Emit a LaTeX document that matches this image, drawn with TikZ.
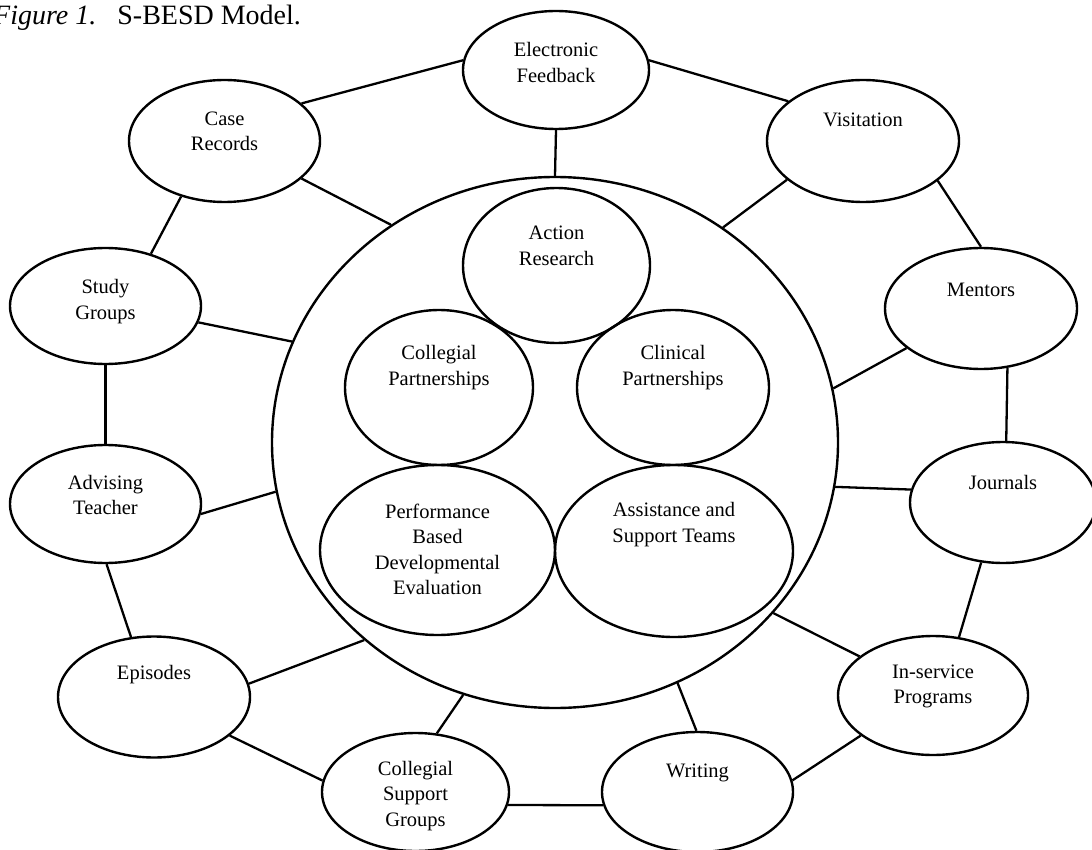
\documentclass[tikz,border=0pt]{standalone}
\usepackage{fontspec}
\setmainfont{Liberation Serif}
\usetikzlibrary{shapes.geometric}
\tikzset{
  oval/.style={draw, ellipse, line width=2.4pt, inner sep=0pt},
  lbl/.style={align=center, inner sep=0pt, font=\fontsize{20.5}{25.5}\selectfont},
  link/.style={line width=2.3pt},
}
\begin{document}
\begin{tikzpicture}[x=1pt,y=-1pt]
\fill[white] (0,0) rectangle (1092,850);
\useasboundingbox (0,0) rectangle (1092,850);

% title
\node[anchor=base west, inner sep=0pt, font=\fontsize{28}{34}\selectfont] (title) at (-7,25)
  {\textit{Figure 1.}\hspace{21pt}S-BESD Model.};

% big circle
\node[oval, minimum width=566pt, minimum height=531pt] (big) at (555,442.5) {};

% inner ellipses
\node[oval, minimum width=187pt, minimum height=155pt] (ar) at (556.5,265.5) {};
\node[oval, minimum width=188pt, minimum height=155pt] (cp) at (439,387.5) {};
\node[oval, minimum width=192pt, minimum height=155pt] (clp) at (673,387.5) {};
\node[oval, minimum width=235pt, minimum height=170pt] (pb) at (437.5,550) {};
\node[oval, minimum width=238pt, minimum height=172pt] (as) at (674,551) {};

% outer ellipses
\node[oval, minimum width=186pt, minimum height=118pt] (ef) at (556,70) {};
\node[oval, minimum width=191pt, minimum height=122pt] (cr) at (224.5,141) {};
\node[oval, minimum width=192pt, minimum height=122pt] (vi) at (863,141) {};
\node[oval, minimum width=191pt, minimum height=116pt] (sg) at (105.5,306) {};
\node[oval, minimum width=192pt, minimum height=121pt] (me) at (981,308.5) {};
\node[oval, minimum width=191pt, minimum height=118pt] (at) at (105.5,504) {};
\node[oval, minimum width=186pt, minimum height=121pt] (jo) at (1003,502.5) {};
\node[oval, minimum width=192pt, minimum height=121pt] (ep) at (154,697) {};
\node[oval, minimum width=190pt, minimum height=119pt] (is) at (933,695.5) {};
\node[oval, minimum width=187pt, minimum height=118pt] (csg) at (415.5,792) {};
\node[oval, minimum width=191pt, minimum height=120pt] (wr) at (697.5,792) {};

% texts
\node[lbl] (ar-t) at ([yshift=19.5pt]ar.center) {Action\\Research};
\node[lbl] (cp-t) at ([yshift=20pt]cp.center) {Collegial\\Partnerships};
\node[lbl] (clp-t) at ([yshift=20pt]clp.center) {Clinical\\Partnerships};
\node[lbl] (pb-t) at ([yshift=0.5pt]pb.center) {Performance\\Based\\Developmental\\Evaluation};
\node[lbl] (as-t) at ([yshift=26.5pt]as.center) {Assistance and\\Support Teams};
\node[lbl] (ef-t) at ([yshift=7.5pt]ef.center) {Electronic\\Feedback};
\node[lbl] (cr-t) at ([yshift=9.5pt]cr.center) {Case\\Records};
\node[lbl] (vi-t) at ([yshift=21pt]vi.center) {Visitation};
\node[lbl] (sg-t) at ([yshift=4.5pt]sg.center) {Study\\Groups};
\node[lbl] (me-t) at ([yshift=18.5pt]me.center) {Mentors};
\node[lbl] (at-t) at ([yshift=9pt]at.center) {Advising\\Teacher};
\node[lbl] (jo-t) at ([yshift=20.5pt]jo.center) {Journals};
\node[lbl] (ep-t) at ([yshift=22pt]ep.center) {Episodes};
\node[lbl] (is-t) at ([yshift=9pt]is.center) {In-service\\Programs};
\node[lbl] (csg-t) at ([yshift=-4pt]csg.center) {Collegial\\Support\\Groups};
\node[lbl] (wr-t) at ([yshift=19pt]wr.center) {Writing};

% connectors
\draw[link] (cr.26.7) -- (ef.174);
\draw[link] (cr.-26.3) -- (big.127.2);
\draw[link] (cr.-128.5) -- (sg.49.7);
\draw[link] (sg.-10.1) -- (big.159.5);
\draw[link] (sg.south) -- (at.north);
\draw[link] (at.-6) -- (big.-170.4);
\draw[link] (at.-89.5) -- (ep.111.4);
\draw[link] (ep.8.3) -- (big.-134.1);
\draw[link] (ep.-27.2) -- (csg.173.3);
\draw[link] (csg.70) -- (big.-110.2);
\draw[link] (csg.-8.1) -- (wr.-172.1);
\draw[link] (wr.91.4) -- (big.-63.9);
\draw[link] (wr.7.3) -- (is.-151.9);
\draw[link] (is.152.5) -- (big.-38.2);
\draw[link] (is.66.9) -- (jo.-110.3);
\draw[link] (jo.172.8) -- (big.-9.9);
\draw[link] (jo.87.2) -- (me.-66.8);
\draw[link] (me.-152.2) -- (big.11.9);
\draw[link] (me.90) -- (vi.-28.1);
\draw[link] (vi.-153.1) -- (big.52.8);
\draw[link] (vi.152.5) -- (ef.6.7);
\draw[link] (ef.south) -- (big.north);
\end{tikzpicture}
\end{document}
